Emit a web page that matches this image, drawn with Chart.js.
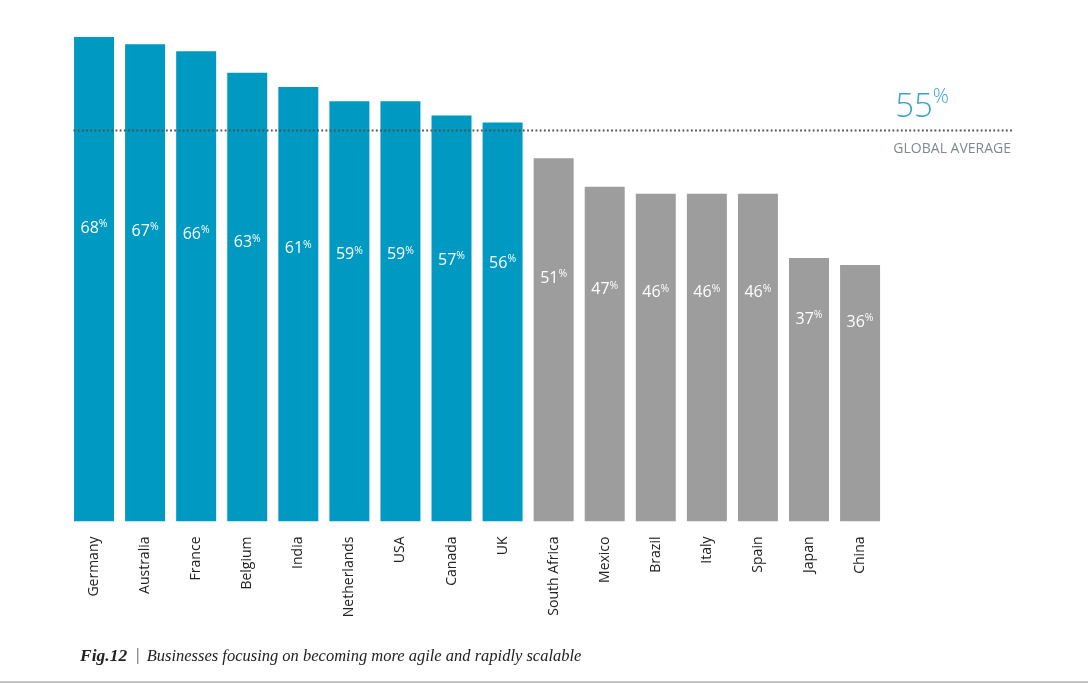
<!DOCTYPE html>
<html><head><meta charset="utf-8">
<script src="https://cdn.jsdelivr.net/npm/chart.js@4/dist/chart.umd.min.js"></script>
<style>html,body{margin:0;padding:0;background:#fff;}#wrap{width:1088px;height:683px;position:relative;}</style>
</head><body><div id="wrap"><canvas id="c" width="1088" height="683"></canvas></div>
<script>
const countries = ["Germany","Australia","France","Belgium","India","Netherlands","USA","Canada","UK","South Africa","Mexico","Brazil","Italy","Spain","Japan","China"];
const values = [68,67,66,63,61,59,59,57,56,51,47,46,46,46,37,36];
const globalAverage = 55;
const averageLabel = "GLOBAL AVERAGE";
const captionBold = "Fig.12";
const captionText = "Businesses focusing on becoming more agile and rapidly scalable";

const BLUE = "#0099c1", GREY = "#9d9d9d";
const barColors = values.map(v => v >= globalAverage ? BLUE : GREY);

const overlay = {
  id: "overlay",
  afterDatasetsDraw(chart) {
    const ctx = chart.ctx, y = chart.scales.y, x = chart.scales.x;
    const meta = chart.getDatasetMeta(0);
    ctx.save();
    // value labels
    meta.data.forEach((bar, i) => {
      const v = values[i];
      const ly = y.getPixelForValue(13.1 + 0.413 * v);
      const num = String(v);
      ctx.font = "16px 'Open Sans'";
      const wn = ctx.measureText(num).width;
      ctx.font = "10.5px 'Open Sans'";
      const wp = ctx.measureText("%").width;
      const start = bar.x - (wn + wp) / 2;
      ctx.fillStyle = "#ffffff";
      ctx.textBaseline = "middle";
      ctx.textAlign = "left";
      ctx.font = "16px 'Open Sans'";
      ctx.fillText(num, start, ly);
      ctx.font = "10.5px 'Open Sans'";
      ctx.fillText("%", start + wn, ly - 4);
    });
    // average line
    const ay = Math.round(y.getPixelForValue(globalAverage)) + 0.5;
    ctx.strokeStyle = "#4a5252";
    ctx.lineWidth = 1.8;
    ctx.setLineDash([1.8, 2.4]);
    ctx.beginPath();
    ctx.moveTo(x.left + 5, ay);
    ctx.lineTo(1012, ay);
    ctx.stroke();
    ctx.setLineDash([]);
    // 55%
    ctx.fillStyle = "#3aa5c6";
    ctx.textBaseline = "alphabetic";
    ctx.font = "300 33px 'Open Sans'";
    const w55 = ctx.measureText(String(globalAverage)).width;
    ctx.font = "300 20px 'Open Sans'";
    const wpc = ctx.measureText("%").width;
    const right = 949;
    ctx.font = "300 33px 'Open Sans'";
    ctx.fillText(String(globalAverage), right - wpc - w55, 117);
    ctx.font = "300 20px 'Open Sans'";
    ctx.fillText("%", right - wpc, 103);
    // GLOBAL AVERAGE
    ctx.fillStyle = "#7d8b8b";
    ctx.font = "14px 'Open Sans'";
    ctx.textAlign = "right";
    ctx.fillText(averageLabel, 1011, 153);
    // caption
    ctx.textAlign = "left";
    ctx.fillStyle = "#222";
    ctx.font = "bold italic 17.5px 'Liberation Serif'";
    ctx.fillText(captionBold, 80, 661);
    let cx = 80 + ctx.measureText(captionBold).width + 8;
    ctx.font = "italic 16.5px 'Liberation Serif'";
    ctx.fillStyle = "#444";
    ctx.fillText("|", cx, 660);
    cx += ctx.measureText("|").width + 7;
    ctx.fillStyle = "#222";
    ctx.fillText(captionText, cx, 661);
    // bottom rule
    ctx.fillStyle = "#c4c4c4";
    ctx.fillRect(0, 681, 1088, 2);
    ctx.restore();
  }
};

new Chart(document.getElementById("c"), {
  type: "bar",
  data: {
    labels: countries,
    datasets: [{ data: values, backgroundColor: barColors, borderWidth: 0, barPercentage: 0.783, categoryPercentage: 1 }]
  },
  options: {
    responsive: false,
    animation: false,
    devicePixelRatio: 1,
    layout: { padding: { top: 37, left: 68.5, right: 202.4, bottom: 0 } },
    plugins: { legend: { display: false }, tooltip: { enabled: false } },
    scales: {
      y: { display: false, min: 0, max: 68 },
      x: {
        grid: { display: false, drawTicks: false },
        border: { display: false },
        afterFit(axis) { axis.height = 161.5; },
        ticks: { minRotation: 90, maxRotation: 90, padding: 15, color: "#222", font: { family: "'Open Sans'", size: 14 } }
      }
    }
  },
  plugins: [overlay]
});
</script></body></html>
